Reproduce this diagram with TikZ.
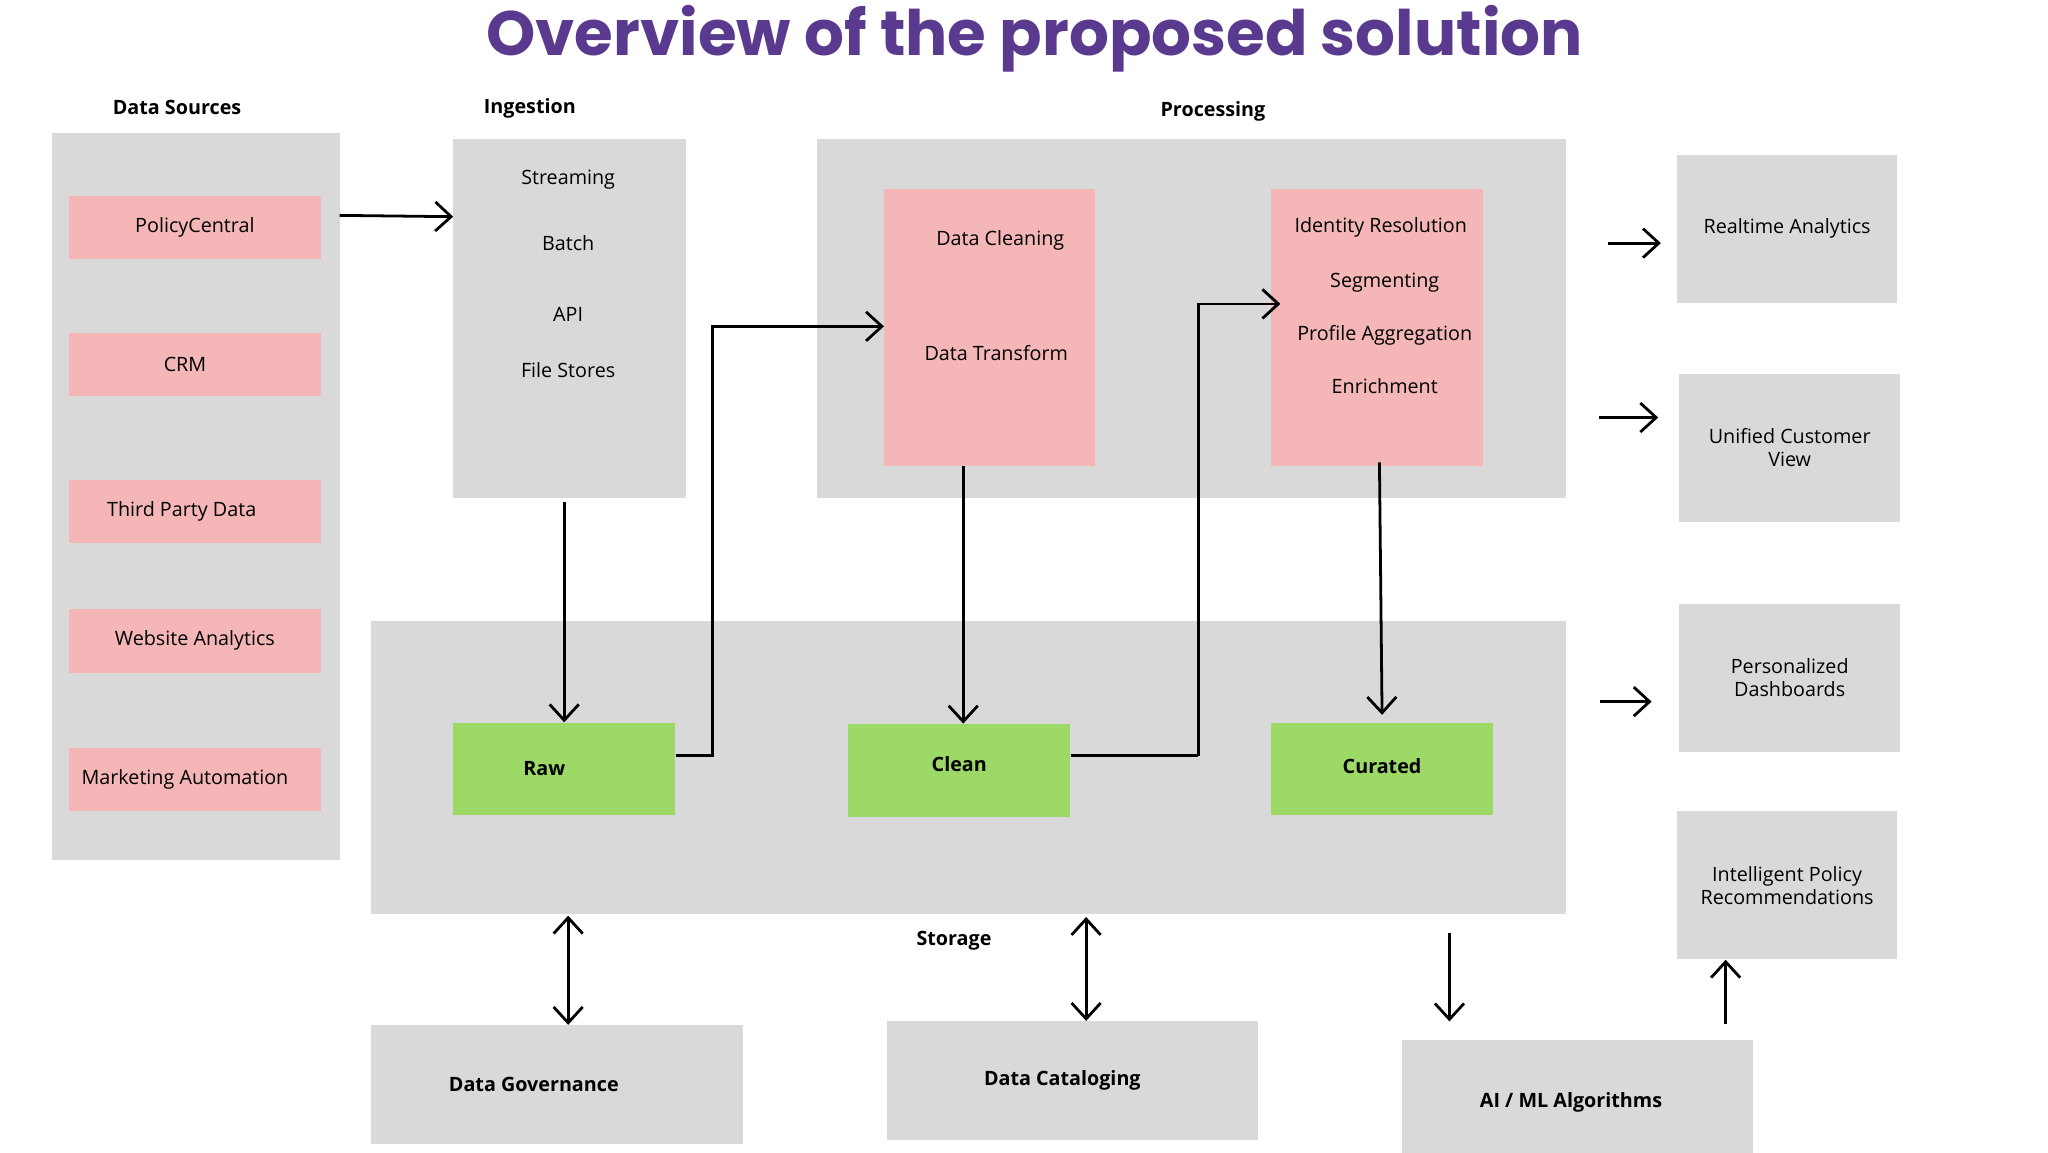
\documentclass[tikz,border=0pt]{standalone}
\usepackage{fontspec}
\setmainfont{Open Sans}
\newfontfamily\titlefont{Poppins}[UprightFont=* SemiBold, BoldFont=* Bold]
\usetikzlibrary{arrows.meta,positioning}
\definecolor{panelgray}{HTML}{D9D9D9}
\definecolor{srcpink}{HTML}{F4B6B6}
\definecolor{zonegreen}{HTML}{9CD967}
\definecolor{titlepurple}{HTML}{5A3A8E}
\tikzset
{
  panel/.style   = {fill=panelgray, draw=none},
  srcbox/.style  = {fill=srcpink, draw=none, minimum width=3.82cm, minimum height=0.96cm, font=\fontsize{8.5}{10}\selectfont},
  zone/.style    = {fill=zonegreen, draw=none, minimum width=3.36cm, minimum height=1.4cm, font=\bfseries\fontsize{8.5}{10}\selectfont},
  outbox/.style  = {fill=panelgray, draw=none, align=center, minimum width=3.34cm, minimum height=2.24cm, font=\fontsize{8.5}{10}\selectfont},
  lbl/.style     = {font=\fontsize{8.5}{10}\selectfont},
  head/.style    = {font=\bfseries\fontsize{8.5}{10}\selectfont},
  flow/.style    = {-{Straight Barb[length=2.4mm,width=4.4mm]}, line width=1.2pt},
  twoway/.style  = {{Straight Barb[length=2.4mm,width=4.4mm]}-{Straight Barb[length=2.4mm,width=4.4mm]}, line width=1.2pt}
}
\begin{document}
\begin{tikzpicture}[x=0.02cm,y=-0.02cm]
  \useasboundingbox (0,0) rectangle (1550,872);
  \node[font=\titlefont\bfseries\fontsize{27}{30}\selectfont, text=titlepurple] (title) at (783,29) {Overview of the proposed solution};

  % panels
  \fill[panel] (39,101) rectangle (257,651);
  \fill[panel] (343,105) rectangle (519,377);
  \fill[panel] (618,105) rectangle (1185,377);
  \fill[panel] (281,470) rectangle (1185,692);
  \node[head] (srclbl) at (134,81) {Data Sources};
  \node[head] (inglbl) at (401,82) {Ingestion};
  \node[head] (prolbl) at (918,84) {Processing};
  \node[head] (stolbl) at (722,712) {Storage};

  % data sources
  \node[srcbox] (policy) at (147.5,172) {PolicyCentral};
  \node[srcbox] (crm) at (147.5,276) {\hspace*{-0.3cm}CRM};
  \node[srcbox] (third) at (147.5,387) {\hspace*{-0.4cm}Third Party Data};
  \node[srcbox] (web) at (147.5,485) {Website Analytics};
  \node[srcbox] (mkt) at (147.5,590) {\hspace*{-0.3cm}Marketing Automation};

  % ingestion
  \coordinate (ingin) at (343,164);
  \coordinate (ingout) at (427,380);
  \node[lbl] (stream) at (430,136) {Streaming};
  \node[lbl] (batch) at (430,184) {Batch};
  \node[lbl] (api) at (430,238) {API};
  \node[lbl] (files) at (430,280) {File Stores};

  % processing
  \fill[srcpink] (669,143) rectangle (829,353);
  \fill[srcpink] (962,143) rectangle (1122,353);
  \coordinate (dcin) at (669,247);
  \coordinate (dcout) at (729,353);
  \coordinate (irin) at (969,230);
  \coordinate (irout) at (1044,350);
  \node[lbl] (clean) at (757,182) {Data Cleaning};
  \node[lbl] (trans) at (754,267) {Data Transform};
  \node[lbl] (ident) at (1045,172) {Identity Resolution};
  \node[lbl] (segm) at (1048,214) {Segmenting};
  \node[lbl] (prof) at (1048,254) {Profile Aggregation};
  \node[lbl] (enr) at (1048,292) {Enrichment};

  % storage zones
  \node[zone] (raw) at (427,582) {\hspace*{-0.6cm}Raw};
  \node[zone] (cln) at (726,583) {\raisebox{0.2cm}{Clean}};
  \node[zone] (cur) at (1046,582) {\raisebox{0.1cm}{Curated}};

  % outputs
  \node[outbox] (rt) at (1352.5,173) {Realtime Analytics};
  \node[outbox] (ucv) at (1354.5,339) {Unified Customer\\View};
  \node[outbox] (pd) at (1354.5,513) {Personalized\\Dashboards};
  \node[outbox] (ipr) at (1352.5,670) {Intelligent Policy\\Recommendations};

  % bottom
  \node[fill=panelgray, minimum width=5.62cm, minimum height=1.8cm, font=\bfseries\fontsize{8.5}{10}\selectfont] (gov) at (421.5,821) {\hspace*{-0.7cm}Data Governance};
  \node[fill=panelgray, minimum width=5.62cm, minimum height=1.8cm, font=\bfseries\fontsize{8.5}{10}\selectfont] (cat) at (811.5,818) {\hspace*{-0.3cm}Data Cataloging};
  \node[fill=panelgray, minimum width=5.32cm, minimum height=1.9cm, font=\bfseries\fontsize{8.5}{10}\selectfont] (aiml) at (1194,834.5) {\hspace*{-0.2cm}AI / ML Algorithms};

  % connectors
  \coordinate (srcout) at (257,163);
  \draw[flow] (srcout) -- (ingin);
  \draw[flow] (ingout) -- (raw.north);
  \draw[flow] (raw.east |- 0,572) -- (539,572) |- (dcin);
  \draw[flow] (dcout) -- (cln.north -| dcout);
  \draw[line width=1.2pt] (cln.east |- 0,572) -- (907,572);
  \draw[flow] (907,572) |- (irin);
  \draw[flow] (irout) -- (1046,541);
  \coordinate (a1) at (1217,184); \coordinate (b1) at (1257,184);
  \coordinate (a2) at (1210,316); \coordinate (b2) at (1255,316);
  \coordinate (a3) at (1211,531); \coordinate (b3) at (1250,531);
  \draw[flow] (a1) -- (b1);
  \draw[flow] (a2) -- (b2);
  \draw[flow] (a3) -- (b3);
  \coordinate (govtop) at (430,693); \coordinate (catup) at (822,694);
  \draw[twoway] (govtop) -- (gov.north -| govtop);
  \draw[twoway] (catup) -- (cat.north -| catup);
  \coordinate (aitop) at (1097,706); \coordinate (aiend) at (1097,773);
  \draw[flow] (aitop) -- (aiend);
  \coordinate (iprfrom) at (1306,775);
  \draw[flow] (iprfrom) -- (ipr.south -| iprfrom);
\end{tikzpicture}
\end{document}
